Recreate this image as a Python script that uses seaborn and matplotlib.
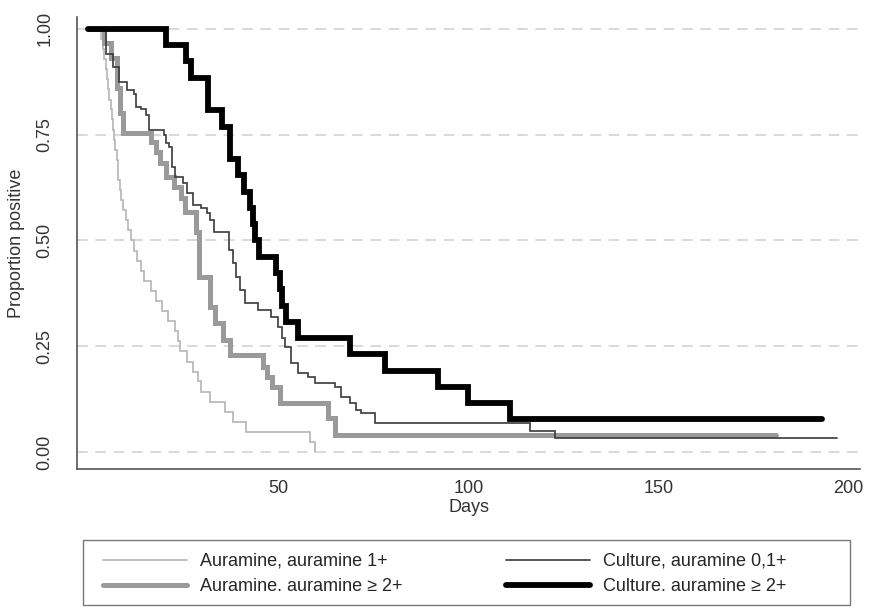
import seaborn as sns
import matplotlib.pyplot as plt
import pandas as pd
from matplotlib.patches import Rectangle

# Kaplan-Meier style step curves (day, proportion after the drop)
light_t = [0, 3.5, 4.0, 4.3, 4.6, 5.0, 5.3, 5.6, 6.0, 6.3, 6.6, 6.9, 7.2, 7.5, 7.8, 8.0, 8.3, 8.8, 9.3, 9.9,
           10.5, 11.2, 12.0, 12.8, 13.8, 14.8, 16.5, 17.8, 19.5, 21.0, 23.0, 23.6, 24.2, 26.0, 27.5, 29.0,
           29.6, 32.0, 36.0, 38.0, 41.5, 58.5, 59.7]
light_s = [1.0, 0.976, 0.952, 0.929, 0.905, 0.881, 0.857, 0.833, 0.810, 0.786, 0.762, 0.738, 0.714, 0.690,
           0.667, 0.643, 0.619, 0.595, 0.571, 0.548, 0.524, 0.500, 0.476, 0.452, 0.429, 0.405, 0.381, 0.357,
           0.333, 0.310, 0.286, 0.262, 0.238, 0.214, 0.190, 0.167, 0.143, 0.119, 0.095, 0.071, 0.048, 0.024, 0.0]

thick_t = [0, 4.2, 6.0, 7.5, 8.5, 9.2, 16.5, 17.8, 19.0, 20.4, 22.5, 24.5, 25.6, 28.5, 29.3, 32.2, 33.5,
           35.5, 37.4, 46.0, 47.0, 48.5, 50.5, 63.0, 65.0, 181.0]
thick_s = [1.0, 0.967, 0.93, 0.86, 0.80, 0.754, 0.733, 0.71, 0.683, 0.65, 0.627, 0.60, 0.567, 0.52, 0.414,
           0.343, 0.305, 0.265, 0.23, 0.20, 0.177, 0.154, 0.116, 0.08, 0.04, 0.04]

dark_t = [0, 4.7, 6.5, 8.1, 10.2, 12.0, 12.6, 13.9, 15.2, 16.0, 19.9, 20.6, 21.2, 22.0, 22.8, 25.0, 26.0,
          27.7, 29.8, 31.2, 32.2, 33.0, 37.0, 38.2, 39.0, 40.0, 41.4, 44.8, 48.0, 50.0, 51.0, 51.8, 53.4,
          55.2, 57.8, 59.7, 65.0, 66.5, 69.0, 70.4, 71.7, 75.4, 116.3, 122.8, 197.0]
dark_s = [1.0, 0.94, 0.91, 0.875, 0.855, 0.845, 0.815, 0.81, 0.797, 0.76, 0.75, 0.73, 0.72, 0.674, 0.65,
          0.636, 0.612, 0.584, 0.577, 0.565, 0.548, 0.52, 0.478, 0.447, 0.414, 0.383, 0.352, 0.336, 0.32,
          0.296, 0.27, 0.248, 0.21, 0.187, 0.177, 0.163, 0.154, 0.13, 0.116, 0.099, 0.092, 0.069, 0.05,
          0.033, 0.033]

black_t = [0, 20.4, 25.7, 27.0, 31.5, 35.3, 37.4, 39.5, 41.0, 42.5, 43.5, 44.0, 45.0, 49.5, 50.5, 51.0,
           52.0, 55.2, 69.0, 78.0, 92.0, 100.0, 111.0, 193.0]
black_s = [1.0, 0.962, 0.923, 0.885, 0.808, 0.769, 0.692, 0.654, 0.615, 0.577, 0.538, 0.500, 0.462, 0.423,
           0.385, 0.346, 0.308, 0.269, 0.231, 0.192, 0.154, 0.115, 0.077, 0.077]

labels = ["Auramine, auramine 1+", "Auramine. auramine \u2265 2+",
          "Culture, auramine 0,1+", "Culture. auramine \u2265 2+"]
y_ticks = [0, 0.25, 0.5, 0.75, 1.0]
y_ticklabels = ["0.00", "0.25", "0.50", "0.75", "1.00"]
x_ticks = [50, 100, 150, 200]

sns.set_style("white")
plt.rcParams["font.family"] = ["Liberation Sans", "DejaVu Sans"]
plt.rcParams["font.size"] = 13

curves = [
    (light_t, light_s, "#b5b5b5", 1.2),
    (thick_t, thick_s, "#9a9a9a", 3.6),
    (dark_t, dark_s, "#3a3a3a", 1.2),
    (black_t, black_s, "#000000", 4.2),
]

fig = plt.figure(figsize=(8.71, 6.12), dpi=100)
ax = fig.add_axes([77 / 871, 1 - 469 / 612, (860 - 77) / 871, (469 - 17) / 612])

for y in y_ticks:
    ax.axhline(y, color="#cfcfcf", lw=1.1, ls=(0, (7, 5)), zorder=0)

handles = []
for (t, s, col, lw), lab in zip(curves, labels):
    df = pd.DataFrame({"Days": t, "Proportion": s})
    sns.lineplot(data=df, x="Days", y="Proportion", ax=ax, estimator=None, sort=False,
                 drawstyle="steps-post", color=col, linewidth=lw, label=lab,
                 solid_joinstyle="miter", legend=False)
    handles.append(ax.lines[-1])

ax.set_xlim(-2.9, 203)
ax.set_ylim(-0.04, 1.028)
ax.set_xticks(x_ticks)
ax.set_yticks(y_ticks)
ax.set_yticklabels(y_ticklabels, rotation=90, va="center")
ax.set_xlabel("Days", color="#333333", labelpad=1)
ax.set_ylabel("Proportion positive", color="#333333", labelpad=8)

for side in ["top", "right"]:
    ax.spines[side].set_visible(False)
for side in ["left", "bottom"]:
    ax.spines[side].set_color("#555555")
    ax.spines[side].set_linewidth(1.2)
ax.tick_params(axis="both", direction="out", length=7, width=1.2, color="#555555", labelcolor="#333333")
ax.tick_params(axis="y", pad=10)
ax.tick_params(axis="x", pad=1)

# legend box drawn separately so the two columns can sit where they do in the original
fig.patches.append(Rectangle((83 / 871, 1 - 605 / 612), (850 - 83) / 871, (605 - 540) / 612,
                             transform=fig.transFigure, fill=False, edgecolor="#777777", lw=1.0))
fig.legend(handles=handles, labels=labels, ncol=2, loc="center left",
           bbox_to_anchor=(96 / 871, 1 - 574 / 612), borderaxespad=0, borderpad=0.4,
           frameon=False, handlelength=4.65, handletextpad=0.72, columnspacing=5.7,
           labelspacing=0.45, fontsize=13)

fig.savefig("out.png", dpi=100)
